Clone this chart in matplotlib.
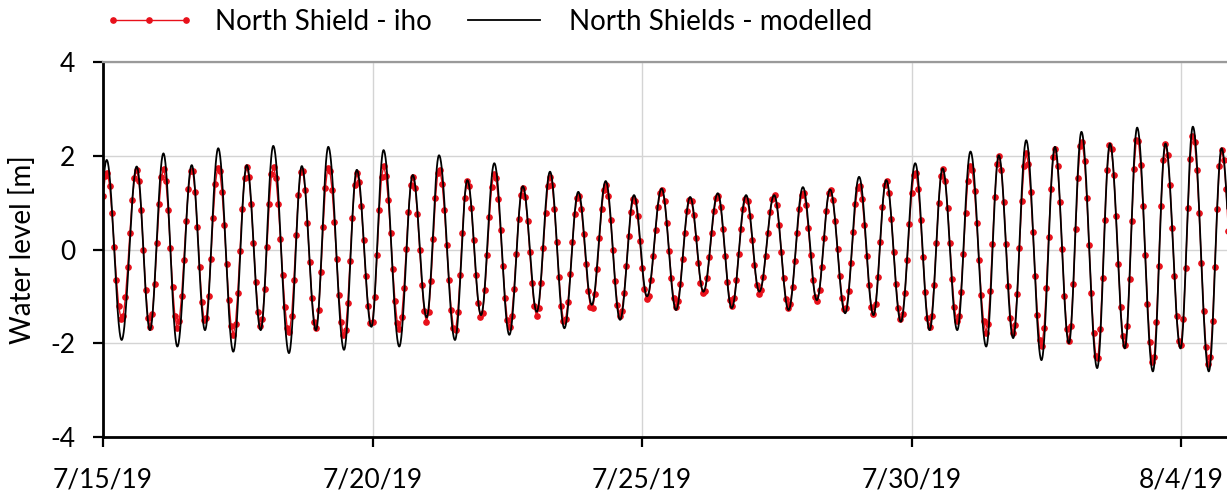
import numpy as np
import pandas as pd
import matplotlib
matplotlib.use('Agg')
import matplotlib.pyplot as plt
from matplotlib.ticker import FixedLocator, FuncFormatter
import matplotlib.dates as mdates

plt.rcParams['font.family'] = ['Lato', 'DejaVu Sans']
plt.rcParams['axes.unicode_minus'] = False

# ─── tidal turning points, hours after 2019-07-15 00:00 ───
hw_hours = [1.65, 15.0, 26.9, 39.5, 51.3, 64.0, 75.8, 88.5, 100.3, 113.0,
            124.9, 137.9, 149.6, 162.2, 174.2, 186.9, 199.0, 211.6, 223.8, 236.4,
            248.7, 261.4, 273.7, 286.3, 298.8, 311.6, 323.7, 336.6, 348.7, 361.6,
            373.8, 386.2, 398.8, 411.0, 423.8, 435.6, 448.3, 460.4, 473.0, 485.2,
            498.0]
hw_model = [1.91, 1.77, 2.05, 1.80, 2.16, 1.80, 2.21, 1.78, 2.19, 1.70,
            2.12, 1.59, 2.01, 1.48, 1.84, 1.35, 1.66, 1.23, 1.46, 1.16,
            1.30, 1.12, 1.20, 1.16, 1.16, 1.33, 1.28, 1.55, 1.48, 1.84,
            1.73, 2.09, 2.01, 2.33, 2.19, 2.51, 2.26, 2.60, 2.26, 2.62,
            2.16]
hw_iho = [1.66, 1.70, 1.73, 1.73, 1.77, 1.77, 1.77, 1.73, 1.77, 1.63,
          1.78, 1.55, 1.73, 1.47, 1.63, 1.32, 1.55, 1.17, 1.38, 1.10,
          1.28, 1.08, 1.16, 1.10, 1.16, 1.22, 1.28, 1.38, 1.48, 1.66,
          1.73, 1.80, 2.01, 2.05, 2.16, 2.33, 2.26, 2.40, 2.26, 2.44,
          2.12]

lw_hours = [-4.8, 8.3, 20.9, 33.1, 45.4, 58.0, 70.2, 82.8, 94.8, 107.3,
            119.5, 131.9, 144.1, 156.7, 168.3, 180.9, 193.1, 205.4, 217.6, 230.2,
            242.2, 255.1, 267.3, 279.9, 292.2, 305.2, 317.8, 330.4, 343.0, 355.2,
            368.0, 380.3, 393.2, 405.2, 417.8, 430.0, 442.6, 454.9, 467.4, 479.7,
            492.3, 504.8]
lw_model = [-1.85, -1.93, -1.72, -2.07, -1.72, -2.18, -1.72, -2.21, -1.72, -2.14,
            -1.65, -2.07, -1.45, -1.93, -1.40, -1.82, -1.33, -1.68, -1.18, -1.50,
            -1.00, -1.29, -0.90, -1.25, -0.90, -1.29, -1.08, -1.36, -1.40, -1.54,
            -1.72, -1.72, -2.07, -1.89, -2.36, -2.00, -2.53, -2.11, -2.60, -2.11,
            -2.60, -2.15]
lw_iho = [-1.80, -1.50, -1.65, -1.68, -1.55, -1.82, -1.65, -1.78, -1.68, -1.85,
          -1.62, -1.70, -1.55, -1.75, -1.45, -1.65, -1.42, -1.55, -1.28, -1.42,
          -1.07, -1.22, -0.95, -1.20, -0.95, -1.25, -1.10, -1.30, -1.38, -1.50,
          -1.65, -1.54, -1.78, -1.78, -2.07, -1.95, -2.36, -2.05, -2.43, -2.07,
          -2.47, -2.10]

start = pd.Timestamp('2019-07-15')
tick_dates = pd.date_range(start, periods=5, freq='5D')
x_days = 20.85
y_ticks = [-4, -2, 0, 2, 4]


def tide_curve(t, ext_t, ext_h):
    """cosine half-waves between consecutive high/low waters"""
    order = np.argsort(ext_t)
    et = np.asarray(ext_t)[order]
    eh = np.asarray(ext_h)[order]
    i = np.clip(np.searchsorted(et, t) - 1, 0, len(et) - 2)
    f = (t - et[i]) / (et[i + 1] - et[i])
    return eh[i] + (eh[i + 1] - eh[i]) * (1 - np.cos(np.pi * f)) / 2


t_fine = np.arange(0, x_days * 24 + 0.5, 0.1)
t_hour = np.arange(0, x_days * 24 + 1, 1.0)
model = tide_curve(t_fine, hw_hours + lw_hours, hw_model + lw_model)
iho = tide_curve(t_hour, hw_hours + lw_hours, hw_iho + lw_iho)

dt_fine = start + pd.to_timedelta(t_fine, unit='h')
dt_hour = start + pd.to_timedelta(t_hour, unit='h')

W, H = 1227, 493
fig = plt.figure(figsize=(W / 100, H / 100), dpi=100)
ax = fig.add_axes([103 / W, 1 - 437 / H, 1 - 103 / W, (437 - 62) / H])

ax.plot(dt_hour, iho, color='#e8101a', lw=1.0, marker='o', ms=3.8,
        label='North Shield - iho', zorder=2)
ax.plot(dt_fine, model, color='black', lw=1.3, label='North Shields - modelled', zorder=3)

ax.set_xlim(start, start + pd.Timedelta(days=x_days))
ax.set_ylim(-4, 4)
ax.xaxis.set_major_locator(FixedLocator(mdates.date2num(tick_dates)))
ax.xaxis.set_major_formatter(FuncFormatter(
    lambda v, p: (lambda d: f"{d.month}/{d.day}/{d:%y}")(mdates.num2date(v))))
ax.set_yticks(y_ticks)

ax.grid(True, color='#d4d4d4', lw=1.0, zorder=0)
ax.set_axisbelow(True)
ax.spines['right'].set_visible(False)
ax.spines['top'].set_color('#9a9a9a')
ax.spines['top'].set_linewidth(1.6)
for s in ('left', 'bottom'):
    ax.spines[s].set_linewidth(2.0)
    ax.spines[s].set_color('black')

ax.tick_params(axis='both', direction='out', length=7, width=1.6, labelsize=19,
               colors='black')
ax.tick_params(axis='x', pad=15)
ax.tick_params(axis='y', pad=13)
ax.set_ylabel('Water level [m]', fontsize=20, labelpad=10)

fig.legend(loc='center left', bbox_to_anchor=(105 / W, 1 - 22 / H), ncol=2, frameon=False,
           fontsize=20, numpoints=3, handlelength=3.2, handletextpad=0.75,
           columnspacing=1.0, borderaxespad=0, borderpad=0)

fig.savefig('out.png', dpi=100)
